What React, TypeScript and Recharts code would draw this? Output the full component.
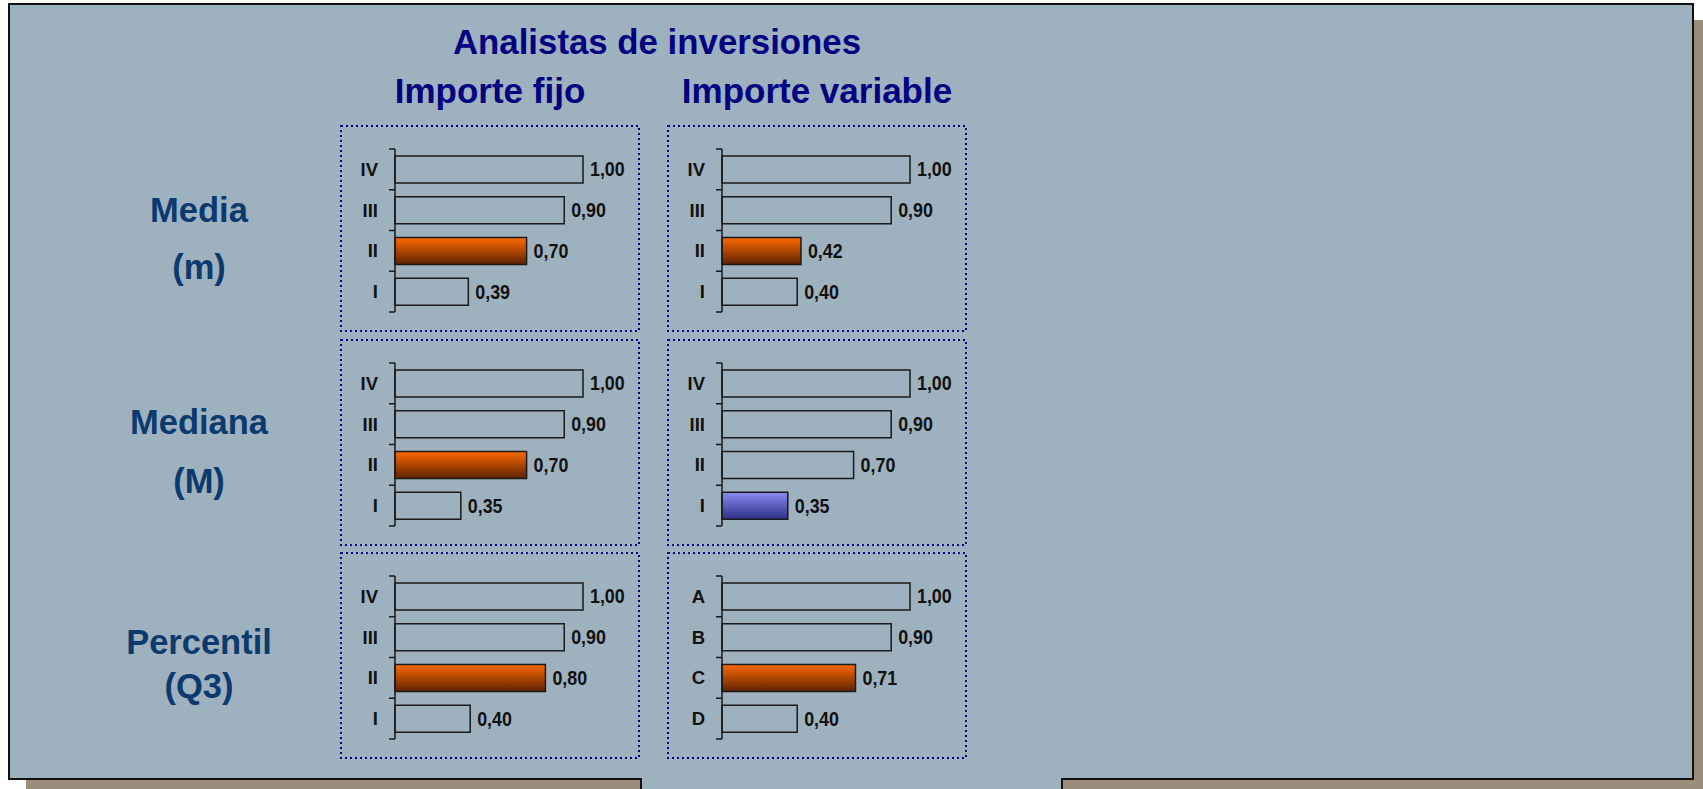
import React from 'react';
import { BarChart, Bar, XAxis, YAxis, Cell, LabelList } from 'recharts';

// ---- Data ----
const romanCats = ['IV', 'III', 'II', 'I'];
const letterCats = ['A', 'B', 'C', 'D'];

const mediaFijo = [1.0, 0.9, 0.7, 0.39];
const mediaVariable = [1.0, 0.9, 0.42, 0.4];
const medianaFijo = [1.0, 0.9, 0.7, 0.35];
const medianaVariable = [1.0, 0.9, 0.7, 0.35];
const percentilFijo = [1.0, 0.9, 0.8, 0.4];
const percentilVariable = [1.0, 0.9, 0.71, 0.4];

// highlight per bar: '' none, 'o' orange, 'b' blue
const mediaFijoHi = ['', '', 'o', ''];
const mediaVariableHi = ['', '', 'o', ''];
const medianaFijoHi = ['', '', 'o', ''];
const medianaVariableHi = ['', '', '', 'b'];
const percentilFijoHi = ['', '', 'o', ''];
const percentilVariableHi = ['', '', 'o', ''];

const mainTitle = 'Analistas de inversiones';
const colTitles = ['Importe fijo', 'Importe variable'];
const rowTitles = [
  ['Media', '(m)'],
  ['Mediana', '(M)'],
  ['Percentil', '(Q3)'],
];

// ---- Styles ----
const BG = '#9EB1BE';
const SHADOW = '#9A8D7B';
const TITLE_COLOR = '#000080';
const ROW_COLOR = '#0B3A6E';
const FONT = 'Arial, "Liberation Sans", Helvetica, sans-serif';
const TICK_SIZE = 6;
const TICK_MARGIN = 11;

const BOX_W = 300;
const BOX_H = 207;
const colX = [340, 667];
const rowY = [125, 339, 552];
const rowLabelX = 199;
const rowLabelY = [
  [210, 267],
  [422, 481],
  [642, 686],
];

const fmt = (v: number) => v.toFixed(2).replace('.', ',');

const CatTick = (props: any) => {
  const { x, y, payload, index, visibleTicksCount } = props;
  const axisX = x + TICK_SIZE + TICK_MARGIN;
  const half = payload && payload.offset ? payload.offset : 20.4;
  const last = index === visibleTicksCount - 1;
  return (
    <g>
      <line x1={axisX - TICK_SIZE} x2={axisX} y1={y - half} y2={y - half} stroke="#1a1a1a" strokeWidth={1.5} />
      {last && (
        <line x1={axisX - TICK_SIZE} x2={axisX} y1={y + half} y2={y + half} stroke="#1a1a1a" strokeWidth={1.5} />
      )}
      <text
        x={x}
        y={y}
        textAnchor="end"
        dominantBaseline="central"
        fontFamily={FONT}
        fontWeight="bold"
        fontSize={18.5}
        fill="#111"
      >
        {payload.value}
      </text>
    </g>
  );
};

const ValueLabel = (props: any) => {
  const { x, y, width, height, value } = props;
  const tx = Number(x) + Number(width) + 7;
  const ty = Number(y) + Number(height) / 2;
  return (
    <text
      transform={`translate(${tx},${ty}) scale(0.87,1)`}
      x={0}
      y={0}
      textAnchor="start"
      dominantBaseline="central"
      fontFamily={FONT}
      fontWeight="bold"
      fontSize={20.5}
      fill="#111"
    >
      {fmt(Number(value))}
    </text>
  );
};

type MiniProps = {
  id: string;
  cats: string[];
  values: number[];
  hi: string[];
  left: number;
  top: number;
};

const MiniChart = ({ id, cats, values, hi, left, top }: MiniProps) => {
  const data = cats.map((c, i) => ({ cat: c, value: values[i] }));
  const fillFor = (h: string) => (h === 'o' ? `url(#${id}-o)` : h === 'b' ? `url(#${id}-b)` : BG);
  return (
    <div
      style={{
        position: 'absolute',
        left,
        top,
        width: BOX_W,
        height: BOX_H,
      }}
    >
      <svg width={BOX_W} height={BOX_H} style={{ position: 'absolute', left: 0, top: 0 }}>
        <rect
          x={1}
          y={1}
          width={BOX_W - 2}
          height={BOX_H - 2}
          fill="none"
          stroke="#000080"
          strokeWidth={2}
          strokeDasharray="2 3"
        />
      </svg>
      <div style={{ position: 'absolute', left: 0, top: 0 }}>
        <BarChart
          width={BOX_W}
          height={BOX_H}
          data={data}
          layout="vertical"
          margin={{ top: 24, right: 57, bottom: 20, left: 0 }}
          barCategoryGap="17%"
        >
          <defs>
            <linearGradient id={`${id}-o`} x1="0" y1="0" x2="0" y2="1">
              <stop offset="0%" stopColor="#FF6A00" />
              <stop offset="100%" stopColor="#5E2200" />
            </linearGradient>
            <linearGradient id={`${id}-b`} x1="0" y1="0" x2="0" y2="1">
              <stop offset="0%" stopColor="#8C8CF0" />
              <stop offset="100%" stopColor="#2E2E8A" />
            </linearGradient>
          </defs>
          <XAxis type="number" domain={[0, 1]} hide />
          <YAxis
            type="category"
            dataKey="cat"
            width={55}
            interval={0}
            tickLine={false}
            tickSize={TICK_SIZE}
            tickMargin={TICK_MARGIN}
            axisLine={{ stroke: '#1a1a1a', strokeWidth: 1.5 }}
            tick={<CatTick />}
          />
          <Bar dataKey="value" isAnimationActive={false} stroke="#1a1a1a" strokeWidth={1.5}>
            {data.map((d, i) => (
              <Cell key={d.cat} fill={fillFor(hi[i])} />
            ))}
            <LabelList dataKey="value" content={<ValueLabel />} />
          </Bar>
        </BarChart>
      </div>
    </div>
  );
};

const charts = [
  { id: 'c1', cats: romanCats, values: mediaFijo, hi: mediaFijoHi, col: 0, row: 0 },
  { id: 'c2', cats: romanCats, values: mediaVariable, hi: mediaVariableHi, col: 1, row: 0 },
  { id: 'c3', cats: romanCats, values: medianaFijo, hi: medianaFijoHi, col: 0, row: 1 },
  { id: 'c4', cats: romanCats, values: medianaVariable, hi: medianaVariableHi, col: 1, row: 1 },
  { id: 'c5', cats: romanCats, values: percentilFijo, hi: percentilFijoHi, col: 0, row: 2 },
  { id: 'c6', cats: letterCats, values: percentilVariable, hi: percentilVariableHi, col: 1, row: 2 },
];

export default function App() {
  return (
    <div
      style={{
        position: 'absolute',
        left: 0,
        top: 0,
        width: 1703,
        height: 789,
        overflow: 'hidden',
        background: '#ffffff',
      }}
    >
      <svg width={1703} height={789} style={{ position: 'absolute', left: 0, top: 0 }}>
        {/* shadows */}
        <rect x={1694} y={20} width={9} height={769} fill={SHADOW} />
        <rect x={26} y={779} width={615} height={10} fill={SHADOW} />
        <rect x={1062} y={779} width={641} height={10} fill={SHADOW} />
        {/* main panel */}
        <rect x={9} y={4} width={1684} height={775} fill={BG} />
        <rect x={641} y={775} width={421} height={14} fill={BG} />
        <path
          d="M 641 789 L 641 779 L 9 779 L 9 4 L 1693 4 L 1693 779 L 1062 779 L 1062 789"
          fill="none"
          stroke="#111"
          strokeWidth={2}
        />
        {/* titles */}
        <text x={657} y={41} textAnchor="middle" dominantBaseline="central" fontFamily={FONT} fontWeight="bold" fontSize={34.8} fill={TITLE_COLOR}>
          {mainTitle}
        </text>
        {colTitles.map((t, i) => (
          <text
            key={t}
            x={colX[i] + BOX_W / 2}
            y={90}
            textAnchor="middle"
            dominantBaseline="central"
            fontFamily={FONT}
            fontWeight="bold"
            fontSize={35}
            fill={TITLE_COLOR}
          >
            {t}
          </text>
        ))}
        {rowTitles.map((r, i) =>
          r.map((t, j) => (
            <text
              key={t}
              x={rowLabelX}
              y={rowLabelY[i][j]}
              textAnchor="middle"
              dominantBaseline="central"
              fontFamily={FONT}
              fontWeight="bold"
              fontSize={34.5}
              fill={ROW_COLOR}
            >
              {t}
            </text>
          ))
        )}
      </svg>
      {charts.map((c) => (
        <MiniChart key={c.id} id={c.id} cats={c.cats} values={c.values} hi={c.hi} left={colX[c.col]} top={rowY[c.row]} />
      ))}
    </div>
  );
}
